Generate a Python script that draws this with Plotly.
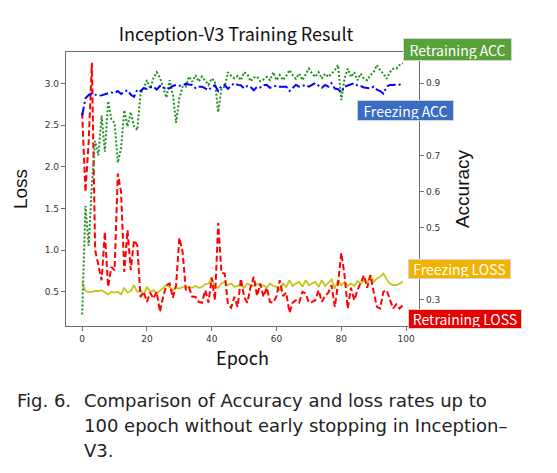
import plotly.graph_objects as go

# ---------------- data ----------------
epochs = list(range(100))

retraining_loss = [2.65, 1.70, 2.30, 3.25, 1.00, 0.80, 0.64, 1.22, 0.56, 0.80,
                   0.76, 1.92, 1.70, 0.74, 1.24, 0.76, 1.12, 1.06, 0.44, 0.50,
                   0.38, 0.49, 0.42, 0.50, 0.26, 0.44, 0.58, 0.60, 0.43, 0.58,
                   1.15, 0.98, 0.52, 0.55, 0.44, 0.44, 0.38, 0.37, 0.52, 0.37,
                   0.67, 0.40, 1.33, 0.73, 0.72, 0.35, 0.31, 0.44, 0.32, 0.66,
                   0.44, 0.37, 0.56, 0.68, 0.45, 0.60, 0.44, 0.55, 0.38, 0.37,
                   0.45, 0.64, 0.45, 0.49, 0.25, 0.37, 0.40, 0.37, 0.50, 0.48,
                   0.37, 0.38, 0.40, 0.52, 0.38, 0.45, 0.49, 0.58, 0.32, 0.60,
                   0.97, 0.70, 0.30, 0.55, 0.40, 0.52, 0.60, 0.70, 0.55, 0.70,
                   0.50, 0.32, 0.30, 0.50, 0.52, 0.42, 0.30, 0.35, 0.30, 0.34]

freezing_loss = [0.62, 0.51, 0.50, 0.50, 0.51, 0.51, 0.52, 0.50, 0.47, 0.50,
                 0.49, 0.50, 0.47, 0.55, 0.49, 0.51, 0.58, 0.50, 0.52, 0.47,
                 0.56, 0.50, 0.52, 0.48, 0.51, 0.54, 0.58, 0.56, 0.52, 0.55,
                 0.54, 0.56, 0.55, 0.56, 0.55, 0.57, 0.55, 0.56, 0.59, 0.60,
                 0.67, 0.56, 0.55, 0.60, 0.62, 0.58, 0.60, 0.56, 0.57, 0.58,
                 0.55, 0.60, 0.58, 0.57, 0.60, 0.57, 0.58, 0.55, 0.60, 0.57,
                 0.56, 0.52, 0.60, 0.56, 0.64, 0.57, 0.60, 0.62, 0.56, 0.64,
                 0.58, 0.60, 0.62, 0.56, 0.64, 0.57, 0.61, 0.65, 0.54, 0.64,
                 0.58, 0.62, 0.57, 0.60, 0.57, 0.63, 0.60, 0.64, 0.60, 0.70,
                 0.62, 0.66, 0.68, 0.72, 0.65, 0.60, 0.58, 0.58, 0.60, 0.62]

retraining_acc = [0.26, 0.56, 0.45, 0.62, 0.74, 0.70, 0.81, 0.71, 0.85, 0.80,
                  0.79, 0.68, 0.72, 0.825, 0.78, 0.82, 0.78, 0.77, 0.87, 0.886,
                  0.908, 0.885, 0.914, 0.93, 0.915, 0.885, 0.86, 0.908, 0.867, 0.79,
                  0.858, 0.89, 0.89, 0.918, 0.904, 0.922, 0.904, 0.918, 0.905, 0.895,
                  0.913, 0.904, 0.82, 0.885, 0.89, 0.93, 0.92, 0.913, 0.92, 0.908,
                  0.93, 0.925, 0.905, 0.915, 0.918, 0.905, 0.91, 0.917, 0.908, 0.93,
                  0.908, 0.922, 0.908, 0.92, 0.936, 0.922, 0.912, 0.926, 0.908, 0.925,
                  0.94, 0.926, 0.917, 0.93, 0.912, 0.926, 0.917, 0.926, 0.935, 0.95,
                  0.853, 0.912, 0.94, 0.917, 0.93, 0.908, 0.926, 0.912, 0.908, 0.922,
                  0.93, 0.95, 0.936, 0.926, 0.912, 0.93, 0.94, 0.94, 0.95, 0.955]

freezing_acc = [0.81, 0.858, 0.867, 0.872, 0.868, 0.865, 0.866, 0.870, 0.872, 0.874,
                0.872, 0.878, 0.870, 0.876, 0.880, 0.868, 0.862, 0.882, 0.878, 0.886,
                0.884, 0.888, 0.890, 0.882, 0.892, 0.889, 0.882, 0.886, 0.892, 0.895,
                0.893, 0.894, 0.898, 0.896, 0.895, 0.886, 0.890, 0.890, 0.884, 0.880,
                0.890, 0.894, 0.878, 0.892, 0.895, 0.884, 0.893, 0.900, 0.895, 0.894,
                0.885, 0.892, 0.889, 0.880, 0.890, 0.888, 0.895, 0.895, 0.887, 0.890,
                0.893, 0.890, 0.891, 0.890, 0.878, 0.888, 0.895, 0.890, 0.892, 0.895,
                0.890, 0.895, 0.900, 0.893, 0.887, 0.895, 0.890, 0.900, 0.885, 0.883,
                0.875, 0.890, 0.893, 0.895, 0.900, 0.893, 0.892, 0.888, 0.886, 0.885,
                0.890, 0.882, 0.878, 0.871, 0.890, 0.895, 0.895, 0.896, 0.895, 0.896]

x_ticks = [0, 20, 40, 60, 80, 100]
loss_ticks = [0.5, 1.0, 1.5, 2.0, 2.5, 3.0]
acc_ticks = [0.3, 0.4, 0.5, 0.6, 0.7, 0.8, 0.9]
acc_tick_labels = ["0.3", "", "0.5", "0.6", "0.7", "", "0.9"]   # 0.4 / 0.8 hidden behind label boxes

title_text = "Inception-V3 Training Result"
caption_lines = ["Comparison of Accuracy and loss rates up to",
                 "100 epoch without early stopping in Inception\u2013",
                 "V3."]

# ---------------- layout geometry ----------------
W, H = 557, 473
L, R, T, B = 66, 419, 52, 326          # plot area in pixels
PW, PH = R - L, B - T


def xp(px):
    return (px - L) / PW


def yp(py):
    return (B - py) / PH


fig = go.Figure()

fig.add_trace(go.Scatter(x=epochs, y=freezing_loss, mode="lines", name="Freezing LOSS",
                         line=dict(color="#c4c41a", width=1.8), yaxis="y"))
fig.add_trace(go.Scatter(x=epochs, y=retraining_loss, mode="lines", name="Retraining LOSS",
                         line=dict(color="#ff0000", width=2, dash="6px,3px"), yaxis="y"))
fig.add_trace(go.Scatter(x=epochs, y=retraining_acc, mode="lines", name="Retraining ACC",
                         line=dict(color="#1f8f1f", width=2, dash="2px,2px"), yaxis="y2"))
fig.add_trace(go.Scatter(x=epochs, y=freezing_acc, mode="lines", name="Freezing ACC",
                         line=dict(color="#0000ff", width=2, dash="9px,3px,2px,3px"), yaxis="y2"))

tickfont = dict(family="DejaVu Sans", size=9, color="#333333")
frame = "#6e6e6e"

fig.update_layout(
    width=W, height=H,
    margin=dict(l=L, r=W - R, t=T, b=H - B, pad=0, autoexpand=False),
    paper_bgcolor="white", plot_bgcolor="white",
    showlegend=False,
    title=dict(text=title_text, x=xp(236), xanchor="center", xref="paper",
               y=1 - 35 / H, yanchor="middle", yref="container",
               font=dict(family="Noto Sans CJK KR", size=18, color="#111111")),
    xaxis=dict(range=[-5, 104], tickvals=x_ticks, ticks="outside", ticklen=4,
               tickcolor=frame, tickfont=tickfont, showgrid=False, zeroline=False,
               showline=True, linecolor=frame, linewidth=1.3, mirror=True, automargin=False,
               title=dict(text="Epoch", standoff=6,
                          font=dict(family="Noto Sans CJK KR", size=18, color="#111111"))),
    yaxis=dict(range=[0.09, 3.38], tickvals=loss_ticks, ticktext=[f"{v:.1f}" for v in loss_ticks],
               ticks="outside", ticklen=4, tickcolor=frame, tickfont=tickfont, automargin=False,
               showgrid=False, zeroline=False, showline=True, linecolor=frame, linewidth=1.3,
               title=dict(text="Loss", standoff=12,
                          font=dict(family="Liberation Sans", size=19, color="#111111"))),
    yaxis2=dict(range=[0.228, 0.986], tickvals=acc_ticks, ticktext=acc_tick_labels,
                overlaying="y", side="right", ticks="outside", ticklen=4, tickcolor=frame,
                tickfont=tickfont, showgrid=False, zeroline=False, showline=True,
                linecolor=frame, linewidth=1.3, automargin=False,
                title=dict(text="Accuracy", standoff=16,
                           font=dict(family="Liberation Sans", size=19, color="#111111"))),
)

# colored label boxes
labels = [
    ("Retraining ACC", 457.5, 49.5, 105, 19, "#58a23a"),
    ("Freezing ACC", 405.5, 110.5, 93, 17, "#3a6cc4"),
    ("Freezing LOSS", 459.5, 269.0, 99, 16, "#f2b300"),
    ("Retraining LOSS", 465.0, 319.0, 110, 16, "#e60000"),
]
for text, cx, cy, w, h, col in labels:
    fig.add_annotation(text=text, xref="paper", yref="paper", x=xp(cx), y=yp(cy),
                       xanchor="center", yanchor="middle", showarrow=False,
                       width=w, height=h, align="center", valign="middle",
                       bgcolor=col, bordercolor="#d4d4d4", borderwidth=1, borderpad=1,
                       font=dict(family="Noto Sans CJK KR", size=14, color="white"))

# caption
capfont = dict(family="DejaVu Sans", size=18, color="#222222")
fig.add_annotation(text="Fig. 6.", xref="paper", yref="paper", x=xp(15), y=yp(400),
                   xanchor="left", yanchor="middle", showarrow=False, font=capfont)
for line, cy in zip(caption_lines, [400, 425, 450]):
    fig.add_annotation(text=line, xref="paper", yref="paper", x=xp(82), y=yp(cy),
                       xanchor="left", yanchor="middle", showarrow=False, font=capfont)

fig.write_html("out.html", config={"displayModeBar": False},
               post_script="document.body.style.margin='0';document.body.style.overflow='hidden';")
